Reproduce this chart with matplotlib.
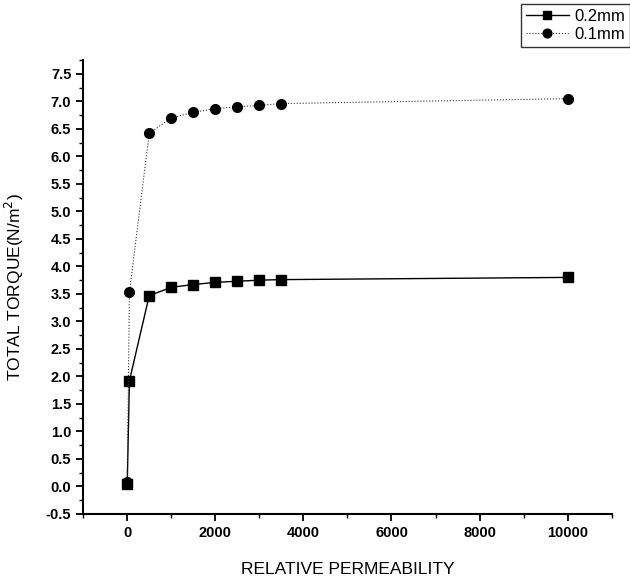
import matplotlib
matplotlib.use("Agg")
import matplotlib.pyplot as plt
from matplotlib.ticker import MultipleLocator

plt.rcParams['font.family'] = ['Liberation Sans', 'DejaVu Sans']

permeability = [1, 50, 500, 1000, 1500, 2000, 2500, 3000, 3500, 10000]
torque_02mm = [0.05, 1.92, 3.47, 3.62, 3.67, 3.71, 3.73, 3.75, 3.76, 3.80]
torque_01mm = [0.08, 3.53, 6.42, 6.70, 6.80, 6.87, 6.90, 6.93, 6.96, 7.05]
series_labels = ["0.2mm", "0.1mm"]

fig = plt.figure(figsize=(6.3, 5.84), dpi=100)
ax = fig.add_axes([0.132, 0.12, 0.839, 0.777])

ax.plot(permeability, torque_02mm, color='black', lw=1.0, ls='-',
        marker='s', ms=6.5, label=series_labels[0])
ax.plot(permeability, torque_01mm, color='#333333', lw=0.8, ls=':',
        marker='o', ms=7, markerfacecolor='black', markeredgecolor='black',
        label=series_labels[1])

ax.set_xlim(-1000, 11000)
ax.set_ylim(-0.5, 7.75)
ax.xaxis.set_major_locator(MultipleLocator(2000))
ax.xaxis.set_minor_locator(MultipleLocator(1000))
ax.yaxis.set_minor_locator(MultipleLocator(0.25))
ax.set_yticks([v / 2 for v in range(-1, 16)])
ax.set_yticklabels([f"{v/2:.1f}" for v in range(-1, 16)])

for s in ['top', 'right']:
    ax.spines[s].set_visible(False)
for s in ['left', 'bottom']:
    ax.spines[s].set_linewidth(1.5)

ax.tick_params(which='major', direction='out', length=5, width=1.3, labelsize=10.5)
ax.tick_params(which='minor', direction='out', length=3, width=1.0)
for lab in ax.get_xticklabels() + ax.get_yticklabels():
    lab.set_fontweight('bold')

ax.set_xlabel("RELATIVE PERMEABILITY", fontsize=12.5, labelpad=16)
ax.set_ylabel("TOTAL TORQUE(N/m$^2$)", fontsize=12.5, labelpad=14)

leg = fig.legend(loc='upper right', bbox_to_anchor=(1.0, 0.993), fontsize=12,
                 frameon=True, fancybox=False, edgecolor='black',
                 handlelength=2.6, borderpad=0.3, labelspacing=0.15,
                 handletextpad=0.3, borderaxespad=0.0, markerscale=0.9)
leg.get_frame().set_linewidth(1.0)

fig.savefig("out.png", dpi=100)
